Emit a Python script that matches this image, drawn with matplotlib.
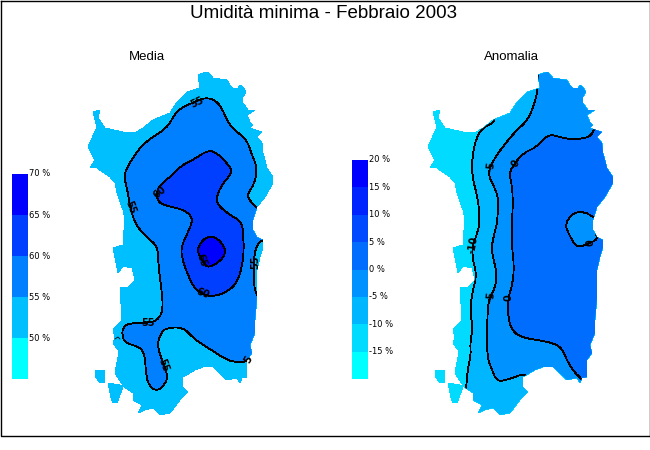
#!/usr/bin/env python3
"""Umidita minima, febbraio 2003: media and anomaly maps of Sardinia."""

import matplotlib
matplotlib.use("Agg")
import matplotlib.pyplot as plt
from matplotlib.patches import PathPatch
from matplotlib.path import Path

plt.rcParams["font.family"] = ["Liberation Sans", "DejaVu Sans"]

# shapes are (x, y) readings on the reference picture
ISLAND = [
    (198, 75), (203, 73), (208, 72), (213, 78), (220, 79), (227, 80), (230, 85),
    (233, 88), (238, 88), (240, 85), (243, 87), (246, 92), (243, 97), (243, 103),
    (248, 110), (255, 110), (247, 115), (250, 122), (253, 125), (250, 128),
    (262, 132), (257, 137), (262, 143), (263, 153), (265, 160), (267, 168),
    (273, 177), (273, 183), (265, 197), (257, 207), (253, 220), (253, 230),
    (257, 237), (263, 240), (263, 247), (260, 257), (257, 270), (257, 297),
    (255, 320), (255, 333), (250, 345), (252, 353), (247, 360), (247, 377),
    (242, 378), (240, 383), (237, 378), (227, 380), (213, 367), (203, 367),
    (195, 370), (183, 377), (183, 387), (188, 392), (180, 400), (170, 413),
    (160, 415), (153, 408), (145, 410), (138, 413), (142, 405), (133, 400),
    (133, 393), (124, 387), (115, 373), (118, 357), (118, 350), (113, 343),
    (115, 337), (113, 330), (122, 320), (120, 288), (128, 287), (135, 280),
    (132, 268), (123, 266), (118, 273), (113, 248), (123, 245), (124, 230),
    (125, 220), (123, 210), (117, 193), (115, 183), (110, 177), (97, 168),
    (90, 168), (95, 160), (88, 147), (92, 138), (97, 127), (93, 112), (100, 110),
    (98, 118), (105, 128), (123, 132), (135, 133), (143, 128), (153, 120),
    (170, 113), (177, 102), (187, 92), (200, 88),
]
SAN_PIETRO = [(95, 371), (105, 370), (105, 382), (100, 383), (95, 376)]
SANT_ANTIOCO = [(108, 383), (120, 385), (123, 387), (117, 403), (113, 403), (111, 398)]

# media map
MEDIA_55 = [
    (195, 102), (180, 108), (173, 117), (167, 128), (148, 140), (138, 150),
    (127, 167), (124, 177), (128, 193), (130, 207), (135, 223), (140, 230),
    (148, 238), (158, 247), (158, 263), (162, 293), (163, 310), (158, 320),
    (148, 323), (130, 323), (123, 327), (122, 335), (125, 343), (140, 347),
    (145, 355), (146, 377), (150, 387), (157, 391), (165, 385), (168, 375),
    (162, 360), (157, 345), (161, 333), (166, 328), (183, 327), (193, 338),
    (208, 348), (227, 360), (235, 362), (246, 362), (252, 357), (275, 357),
    (275, 302), (256, 300), (253, 273), (255, 247), (263, 239), (272, 238),
    (270, 217), (256, 208), (248, 198), (248, 193), (255, 183), (257, 167),
    (252, 155), (247, 140), (237, 132), (228, 123), (222, 108), (215, 100),
    (208, 98), (200, 99),
]
MEDIA_60 = [
    (157, 191), (160, 185), (170, 177), (182, 165), (193, 160), (208, 150),
    (217, 153), (227, 163), (233, 172), (223, 183), (216, 197), (218, 205),
    (227, 213), (242, 222), (243, 233), (244, 250), (242, 267), (237, 283),
    (227, 292), (215, 296), (207, 296), (195, 290), (187, 273), (182, 258),
    (181, 247), (188, 232), (193, 220), (188, 212), (177, 208), (163, 205),
    (157, 200),
]
MEDIA_65 = [
    (197, 252), (200, 243), (208, 236), (218, 238), (227, 251), (220, 262),
    (208, 268), (204, 263),
]
MEDIA_STUB = [(115, 339), (118, 337), (120, 339)]
MEDIA_LABELS = ["55", "55", "60", "55", "65", "60", "55", "55", "5"]
MEDIA_LABEL_X = [197, 130, 160, 255, 202, 203, 148, 163, 248]
MEDIA_LABEL_Y = [102, 207, 192, 262, 260, 293, 323, 365, 360]
MEDIA_LABEL_ROT = [25, -70, 40, 90, -70, -20, 0, -70, 60]

# anomaly map, in the coordinates of the media map (same outline)
ANOM_M10 = [
    (158, 121), (145, 126), (137, 135), (132, 157), (132, 177), (138, 198),
    (140, 223), (138, 230), (135, 240), (133, 243), (132, 257), (137, 275),
    (132, 293), (130, 313), (133, 327), (130, 343), (131, 355), (128, 367),
    (126, 388), (123, 430), (320, 430), (320, 40), (158, 40),
]
ANOM_M5 = [
    (198, 88), (195, 102), (188, 120), (177, 130), (168, 140), (153, 160),
    (148, 173), (152, 183), (158, 195), (158, 207), (157, 225), (155, 230),
    (153, 240), (151, 250), (158, 277), (152, 295), (148, 302), (147, 330),
    (147, 357), (152, 370), (157, 382), (170, 379), (180, 375), (186, 374),
    (190, 387), (320, 387), (320, 43), (198, 43),
]
ANOM_0 = [
    (254, 128), (252, 135), (243, 139), (228, 139), (220, 137), (208, 134),
    (197, 147), (183, 153), (175, 163), (169, 173), (172, 185), (173, 203),
    (172, 220), (172, 250), (174, 263), (173, 283), (168, 298), (168, 318),
    (172, 330), (180, 337), (197, 340), (213, 343), (222, 348), (228, 363),
    (235, 373), (242, 379), (247, 390), (320, 390), (320, 93), (267, 123),
]
ANOM_BLOB = [
    (253, 217), (245, 212), (235, 212), (227, 220), (226, 227), (227, 230),
    (232, 240), (235, 245), (240, 247), (250, 243), (258, 239), (255, 232),
    (268, 225),
]
ANOM_LABELS = ["-5", "0", "-10", "-5", "0", "0"]
ANOM_LABEL_X = [491, 516, 473, 491, 509, 591]
ANOM_LABEL_Y = [166, 164, 245, 296, 298, 243]
ANOM_LABEL_ROT = [85, 60, 80, 85, 90, 90]

# legends
MEDIA_LEVELS = [45, 50, 55, 60, 65]
MEDIA_COLORS = ["#00ffff", "#00bfff", "#007fff", "#003fff", "#0000ff"]
MEDIA_TICKS = [50, 55, 60, 65, 70]
ANOM_LEVELS = [-20, -15, -10, -5, 0, 5, 10, 15]
ANOM_COLORS = ["#00ffff", "#00dbff", "#00b6ff", "#0092ff",
               "#006dff", "#0049ff", "#0024ff", "#0000ff"]
ANOM_TICKS = [-15, -10, -5, 0, 5, 10, 15, 20]


def polygon(points, dx=0):
    verts = [(x + dx, y) for x, y in points]
    verts.append(verts[0])
    codes = [Path.MOVETO] + [Path.LINETO] * (len(points) - 1) + [Path.CLOSEPOLY]
    return Path(verts, codes)


def smooth_loop(points, dx=0):
    # rounded loop through the midpoints, contours are curves in the original
    pts = [(x + dx, y) for x, y in points]
    mids = [((a[0] + b[0]) / 2, (a[1] + b[1]) / 2) for a, b in zip(pts, pts[1:] + pts[:1])]
    verts = [mids[-1]]
    codes = [Path.MOVETO]
    for ctrl, mid in zip(pts, mids):
        verts += [ctrl, mid]
        codes += [Path.CURVE3, Path.CURVE3]
    return Path(verts, codes)


def land_path(dx=0):
    paths = [polygon(p, dx) for p in (ISLAND, SAN_PIETRO, SANT_ANTIOCO)]
    return Path.make_compound_path(*paths)


def draw_zone(ax, points, color, clip, dx=0):
    # zones run past the coast and get cut by the outline
    patch = PathPatch(smooth_loop(points, dx), facecolor=color, edgecolor="black",
                      linewidth=0.6, antialiased=False)
    ax.add_patch(patch)
    patch.set_clip_path(clip)


def draw_legend(fig, box, levels, colors, ticks):
    x0, y0, x1, y1 = box
    cax = fig.add_axes([x0 / 650, 1 - y1 / 450, (x1 - x0) / 650, (y1 - y0) / 450])
    step = levels[1] - levels[0]
    cax.bar([0] * len(levels), [step] * len(levels), bottom=levels, width=1,
            color=colors, linewidth=0)
    cax.set_xlim(-0.5, 0.5)
    cax.set_ylim(levels[0], levels[-1] + step)
    cax.axis("off")
    for tick in ticks:
        cax.annotate(f"{tick} %", xy=(1, tick), xycoords=("axes fraction", "data"),
                     xytext=(1.0, 0), textcoords="offset points", fontsize=6,
                     va="center", ha="left", family=["DejaVu Sans"])


def draw_labels(ax, labels, xs, ys, rots):
    for text, x, y, rot in zip(labels, xs, ys, rots):
        ax.text(x, y, text, fontsize=7, fontweight="bold", rotation=rot,
                ha="center", va="center", rotation_mode="anchor",
                family=["DejaVu Sans"], zorder=5)


def main():
    fig = plt.figure(figsize=(6.5, 4.5), dpi=100, facecolor="white")
    ax = fig.add_axes([0, 0, 1, 1])
    ax.set_xlim(0, 650)
    ax.set_ylim(450, 0)
    ax.axis("off")

    # left map
    land = PathPatch(land_path(), facecolor="#00bfff", edgecolor="none", antialiased=False)
    ax.add_patch(land)
    draw_zone(ax, MEDIA_55, "#007fff", land)
    draw_zone(ax, MEDIA_60, "#003fff", land)
    draw_zone(ax, MEDIA_65, "#0000ff", land)
    ax.plot(*zip(*MEDIA_STUB), color="black", lw=0.6)
    draw_labels(ax, MEDIA_LABELS, MEDIA_LABEL_X, MEDIA_LABEL_Y, MEDIA_LABEL_ROT)

    # right map, same outline moved across
    dx = 340
    land2 = PathPatch(land_path(dx), facecolor="#00dbff", edgecolor="none", antialiased=False)
    ax.add_patch(land2)
    draw_zone(ax, ANOM_M10, "#00b6ff", land2, dx)
    draw_zone(ax, ANOM_M5, "#0092ff", land2, dx)
    draw_zone(ax, ANOM_0, "#006dff", land2, dx)
    draw_zone(ax, ANOM_BLOB, "#0092ff", land2, dx)
    draw_labels(ax, ANOM_LABELS, ANOM_LABEL_X, ANOM_LABEL_Y, ANOM_LABEL_ROT)

    draw_legend(fig, (12, 174, 28, 379), MEDIA_LEVELS, MEDIA_COLORS, MEDIA_TICKS)
    draw_legend(fig, (352, 160, 368, 379), ANOM_LEVELS, ANOM_COLORS, ANOM_TICKS)

    ax.text(324, 18, "Umidità minima - Febbraio 2003", fontsize=13.5, ha="center", va="baseline")
    ax.text(147, 57, "Media", fontsize=9.5, ha="center", va="center")
    ax.text(511, 57, "Anomalia", fontsize=9.5, ha="center", va="center")

    # picture frame
    ax.plot([0.5, 649.5, 649.5, 0.5, 0.5], [0.5, 0.5, 435.5, 435.5, 0.5], color="black", lw=1)

    fig.savefig("out.png", dpi=100, facecolor="white")
    plt.close(fig)


if __name__ == "__main__":
    main()
